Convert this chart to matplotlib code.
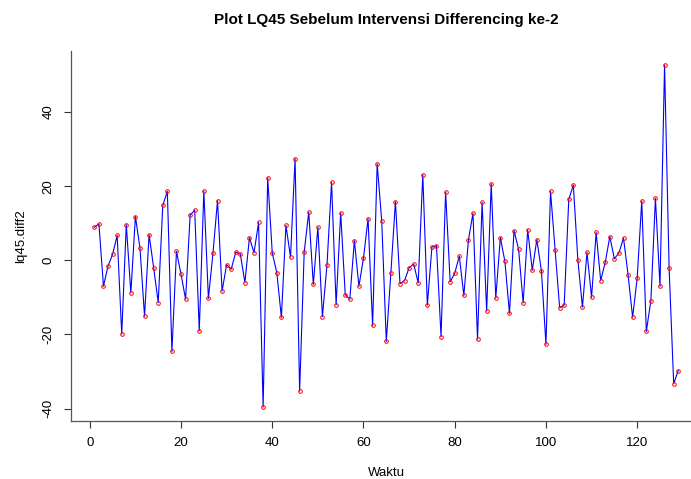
import matplotlib
matplotlib.use("Agg")
import matplotlib.pyplot as plt
import numpy as np

plt.rcParams["font.family"] = ["Liberation Sans", "DejaVu Sans"]

# lq45.diff2 values (index 1..129)
lq45_diff2 = [
    8.9, 9.8, -7.0, -1.5, 1.6, 6.7, -19.9, 9.6, -8.8, 11.8,
    3.3, -15.1, 6.9, -2.0, -11.4, 14.8, 18.6, -24.6, 2.4, -3.8,
    -10.5, 12.2, 13.5, -19.0, 18.7, -10.3, 1.9, 16.1, -8.3, -1.2,
    -2.4, 2.2, 1.7, -6.0, 6.1, 2.0, 10.2, -39.6, 22.3, 2.0,
    -3.4, -15.4, 9.4, 0.9, 27.4, -35.3, 2.2, 13.0, -6.5, 8.9,
    -15.2, -1.2, 21.0, -12.0, 12.8, -9.3, -10.5, 5.3, -7.0, 0.6,
    11.2, -17.6, 26.0, 10.6, -21.9, -3.4, 15.8, -6.3, -5.5, -2.0,
    -1.0, -6.1, 23.1, -12.1, 3.6, 3.9, -20.6, 18.4, -5.8, -3.5,
    1.1, -9.5, 5.4, 12.7, -21.3, 15.6, -13.7, 20.6, -10.2, 6.1,
    -0.3, -14.3, 8.0, 3.0, -11.5, 8.2, -2.7, 5.6, -2.8, -22.7,
    18.6, 2.8, -12.8, -12.1, 16.4, 20.3, 0.0, -12.6, 2.1, -10.0,
    7.5, -5.5, -0.5, 6.4, 0.4, 2.0, 6.0, -3.9, -15.4, -4.8,
    16.0, -19.2, -10.9, 16.7, -7.0, 52.7, -2.2, -33.3, -29.8,
]
waktu = np.arange(1, len(lq45_diff2) + 1)
x_ticks = [0, 20, 40, 60, 80, 100, 120]
y_ticks = [-40, -20, 0, 20, 40]

fig = plt.figure(figsize=(6.91, 4.79), dpi=100)
# R-style plot region; right edge runs past the png like the original
ax = fig.add_axes([71 / 691, 1 - 420.7 / 479, 630.6 / 691, 369.4 / 479])

ax.plot(waktu, lq45_diff2, color="blue", lw=0.8, marker="o", ms=2.6,
        mfc="none", mec="red", mew=0.7)

# R pads the data range by 4%
n = len(lq45_diff2)
xr = n - 1
ax.set_xlim(1 - 0.04 * xr, n + 0.04 * xr)
ymin, ymax = min(lq45_diff2), max(lq45_diff2)
yr = ymax - ymin
ax.set_ylim(ymin - 0.04 * yr, ymax + 0.04 * yr)

ax.set_xticks(x_ticks)
ax.set_yticks(y_ticks)
ax.set_yticklabels([str(v) for v in y_ticks], rotation=90, va="center")
ax.tick_params(direction="out", length=5, width=0.8, labelsize=9.5,
               colors="#333333", labelcolor="black", pad=7)
for s in ("top", "right"):
    ax.spines[s].set_visible(False)
for s in ("left", "bottom"):
    ax.spines[s].set_color("#555555")
    ax.spines[s].set_linewidth(0.9)

ax.set_xlabel("Waktu", fontsize=9.5, labelpad=13)
ax.set_ylabel("lq45.diff2", fontsize=9.5, labelpad=11)
fig.text(386 / 691, 1 - 20 / 479, "Plot LQ45 Sebelum Intervensi Differencing ke-2",
         ha="center", va="center", fontsize=11, fontweight="bold")

fig.savefig("out.png", dpi=100)
